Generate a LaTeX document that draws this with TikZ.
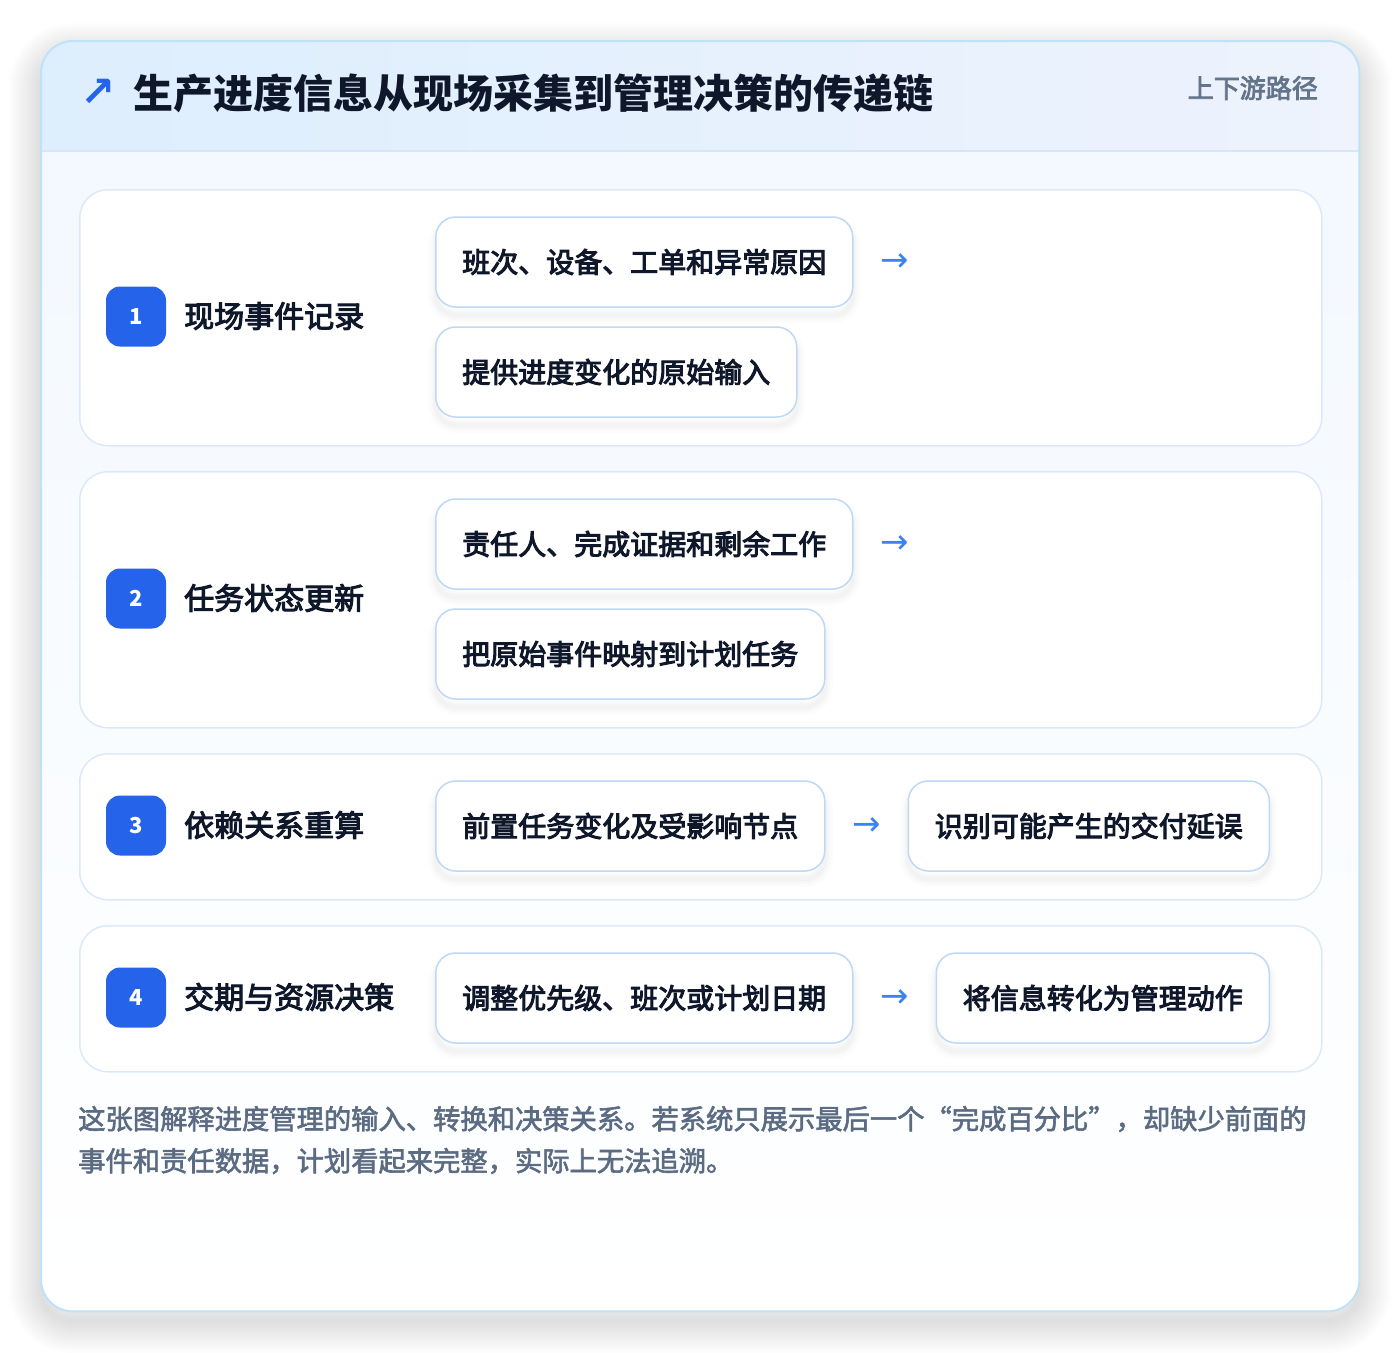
\documentclass[tikz,border=0pt]{standalone}
\usepackage{fontspec}
\setmainfont{Noto Sans CJK SC}
\newfontfamily\symfont{DejaVu Sans}
\newcommand\thickentext[2]{\special{pdf:literal direct 2 Tr #1 w}#2\special{pdf:literal direct 0 Tr}}
\usetikzlibrary{calc}
\definecolor{cardborder}{HTML}{BEE3F8}
\definecolor{hdrL}{HTML}{DDEEFD}
\definecolor{hdrR}{HTML}{EEF3FD}
\definecolor{hdrline}{HTML}{D6E6F7}
\definecolor{bodytop}{HTML}{F2F8FF}
\definecolor{rowborder}{HTML}{DCE9FA}
\definecolor{chipborder}{HTML}{BFD8F6}
\definecolor{badgeblue}{HTML}{2563EB}
\definecolor{ink}{HTML}{0F172A}
\definecolor{muted}{HTML}{64748B}
\definecolor{arrowc}{HTML}{3B82F6}
\definecolor{foot}{HTML}{5B6B82}
\tikzset{
  softshadow/.style={
    preaction={draw=black, draw opacity=0.012, line width=16pt, transform canvas={yshift=-8pt}},
    preaction={draw=black, draw opacity=0.015, line width=10pt, transform canvas={yshift=-8pt}},
    preaction={draw=black, draw opacity=0.02, line width=5pt, transform canvas={yshift=-8pt}}},
  rowbox/.style={draw=rowborder, line width=1.5pt, fill=white, rounded corners=28pt, anchor=north west, minimum width=1242pt, inner sep=0},
  chip/.style={softshadow, draw=chipborder, line width=1.5pt, fill=white, rounded corners=20pt, minimum height=90pt, inner xsep=26.5pt, inner ysep=0, anchor=west, font=\fontsize{28}{34}\selectfont, text=ink},
  badgebox/.style={fill=badgeblue, rounded corners=14pt, minimum size=60pt, text=white, font=\bfseries\fontsize{22}{26}\selectfont, inner sep=0},
  lbl/.style={anchor=west, text=ink, font=\fontsize{30}{36}\selectfont, inner sep=0},
  flow/.style={text=arrowc, font=\symfont\fontsize{34}{34}\selectfont, inner sep=0},
  foottext/.style={anchor=west, text=foot, font=\fontsize{27.3}{32}\selectfont, inner sep=0},
}
\begin{document}
\begin{tikzpicture}[x=1pt,y=-1pt]
\useasboundingbox (0,0) rectangle (1400,1352);
\fill[white] (0,0) rectangle (1400,1352);
% card shadow
\foreach \w in {4,8,...,64} {
  \draw[black, draw opacity=0.006, line width=\w pt, rounded corners=32pt] (41,55) rectangle (1359,1321);
}
% card
\path[top color=bodytop, bottom color=white, rounded corners=32pt] (41,41) rectangle (1359,1311);
\node[inner sep=0, minimum width=1318pt, minimum height=1270pt, anchor=north west] (card) at (41,41) {};
\begin{scope}
  \clip[rounded corners=32pt] (card.north west) rectangle (card.south east);
  \shade[left color=hdrL, right color=hdrR] (41,41) rectangle (1359,151);
  \draw[hdrline, line width=1.5pt] (41,151) -- (1359,151);
\end{scope}
\draw[cardborder, line width=2pt, rounded corners=32pt] (card.north west) rectangle (card.south east);
% header
\node[text=badgeblue, font=\symfont\bfseries\fontsize{42}{42}\selectfont, inner sep=0] (icon) at (98,93) {↗};
\node[anchor=west, font=\bfseries\fontsize{40}{48}\selectfont, text=ink, inner sep=0] (title) at (133,93) {生产进度信息从现场采集到管理决策的传递链};
\node[anchor=east, text=muted, font=\fontsize{26}{30}\selectfont, inner sep=0] (tag) at (1318,88) {\thickentext{0.8}{上下游路径}};
% rows
\node[rowbox, minimum height=256pt] (row1) at (79,189) {};
\node[rowbox, minimum height=256pt] (row2) at (79,471) {};
\node[rowbox, minimum height=146pt] (row3) at (79,753) {};
\node[rowbox, minimum height=146pt] (row4) at (79,925) {};
% row 1
\node[badgebox] (b1) at (136,316.5) {1};
\node[lbl] (l1) at (184,316) {\thickentext{1}{现场事件记录}};
\node[chip] (c11) at (435,262) {\thickentext{1}{班次、设备、工单和异常原因}};
\node[flow] (a1) at ($(c11.east)+(41,1)$) {→};
\node[chip] (c12) at (435,372) {\thickentext{1}{提供进度变化的原始输入}};
% row 2
\node[badgebox] (b2) at (136,598.5) {2};
\node[lbl] (l2) at (184,598) {\thickentext{1}{任务状态更新}};
\node[chip] (c21) at (435,544) {\thickentext{1}{责任人、完成证据和剩余工作}};
\node[flow] (a2) at ($(c21.east)+(41,1)$) {→};
\node[chip] (c22) at (435,654) {\thickentext{1}{把原始事件映射到计划任务}};
% row 3
\node[badgebox] (b3) at (136,825.5) {3};
\node[lbl] (l3) at (184,825) {\thickentext{1}{依赖关系重算}};
\node[chip] (c31) at (435,826) {\thickentext{1}{前置任务变化及受影响节点}};
\node[flow] (a3) at ($(c31.east)+(41,1)$) {→};
\node[chip] (c32) at ($(c31.east)+(82,0)$) {\thickentext{1}{识别可能产生的交付延误}};
% row 4
\node[badgebox] (b4) at (136,997.5) {4};
\node[lbl] (l4) at (184,997) {\thickentext{1}{交期与资源决策}};
\node[chip] (c41) at (435,998) {\thickentext{1}{调整优先级、班次或计划日期}};
\node[flow] (a4) at ($(c41.east)+(41,1)$) {→};
\node[chip] (c42) at ($(c41.east)+(82,0)$) {\thickentext{1}{将信息转化为管理动作}};
% footer
\node[foottext] (f1) at (78,1119) {\thickentext{0.6}{这张图解释进度管理的输入、转换和决策关系。若系统只展示最后一个“完成百分比”，却缺少前面的}};
\node[foottext] (f2) at (78,1161) {\thickentext{0.6}{事件和责任数据，计划看起来完整，实际上无法追溯。}};
\end{tikzpicture}
\end{document}
